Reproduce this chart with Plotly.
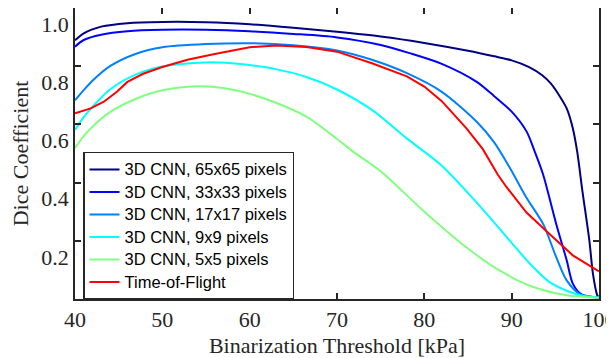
import plotly.graph_objects as go

# -- datos (umbral en kPa, coeficiente Dice)
x_65 = [40, 41, 43, 46, 50, 55, 60, 65, 70, 75, 80, 85, 88, 90, 92, 93.5, 94.5, 95.5, 96.3, 97, 97.5, 98.1, 98.9, 99.3, 99.8, 100]
y_65 = [0.889, 0.913, 0.936, 0.948, 0.952, 0.951, 0.944, 0.932, 0.918, 0.902, 0.880, 0.853, 0.834, 0.820, 0.797, 0.769, 0.740, 0.697,
        0.655, 0.587, 0.507, 0.371, 0.200, 0.088, 0.013, 0.005]

x_33 = [40, 41, 43, 46, 50, 55, 60, 65, 70, 75, 78.3, 82, 86, 88, 90, 91.7, 92.6, 93.6, 95.1, 96.3, 97, 98, 100]
y_33 = [0.867, 0.890, 0.908, 0.920, 0.925, 0.925, 0.920, 0.911, 0.899, 0.873, 0.845, 0.808, 0.746, 0.697, 0.644, 0.576, 0.510,
        0.428, 0.258, 0.133, 0.053, 0.016, 0.005]

x_17 = [40, 41, 42, 44, 47, 50, 55, 60, 65, 70, 74, 78, 82, 86, 88, 89.8, 91.7, 93.6, 95.1, 96.3, 97.8, 100]
y_17 = [0.683, 0.718, 0.750, 0.800, 0.843, 0.865, 0.876, 0.879, 0.872, 0.854, 0.822, 0.776, 0.712, 0.609, 0.538, 0.450, 0.348,
        0.258, 0.144, 0.064, 0.017, 0.005]

x_9 = [40, 41, 42, 44, 47, 50, 55, 58, 60, 63, 66.5, 70, 74, 78, 82, 86, 89.8, 92.1, 94.3, 96.6, 98, 100]
y_9 = [0.581, 0.625, 0.660, 0.720, 0.772, 0.799, 0.813, 0.810, 0.804, 0.790, 0.763, 0.720, 0.650, 0.552, 0.458, 0.331, 0.200,
       0.121, 0.059, 0.025, 0.012, 0.005]

x_5 = [40, 41, 42, 44, 47, 50, 54, 57, 60, 62.7, 66.5, 70, 72, 75, 80, 84.8, 88.6, 92.4, 96.3, 100]
y_5 = [0.519, 0.560, 0.592, 0.642, 0.688, 0.717, 0.731, 0.725, 0.705, 0.678, 0.627, 0.550, 0.503, 0.439, 0.300, 0.178, 0.098,
       0.042, 0.013, 0.004]

x_tof = [40, 41.8, 43.3, 44.8, 46, 47.8, 50, 53, 56, 60, 63, 66.5, 70, 74, 78, 80, 82, 84.8, 86.7, 88.4, 89.4, 91.7, 94.3, 97, 100]
y_tof = [0.638, 0.655, 0.678, 0.712, 0.746, 0.774, 0.797, 0.823, 0.842, 0.865, 0.871, 0.866, 0.850, 0.810, 0.765, 0.730, 0.680,
         0.587, 0.515, 0.428, 0.385, 0.297, 0.224, 0.150, 0.095]

nombres = ['3D CNN, 65x65 pixels', '3D CNN, 33x33 pixels', '3D CNN, 17x17 pixels',
           '3D CNN, 9x9 pixels', '3D CNN, 5x5 pixels', 'Time-of-Flight']
colores = ['#000080', '#0000ff', '#0080ff', '#00ffff', '#80ff80', '#ff0000']

y_ticks = [0.2, 0.4, 0.6, 0.8, 1.0]
x_ticks = [40, 50, 60, 70, 80, 90, 100]

series = [(x_65, y_65), (x_33, y_33), (x_17, y_17), (x_9, y_9), (x_5, y_5), (x_tof, y_tof)]

fig = go.Figure()
for i, (xs, ys) in enumerate(series):
    forma = 'linear' if nombres[i] == 'Time-of-Flight' else 'spline'
    # texto de la leyenda un poco mas grande que el alto de renglon
    etiqueta = '<span style="font-size:16.5px">' + nombres[i] + '</span>'
    fig.add_trace(go.Scatter(x=xs, y=ys, mode='lines', name=etiqueta,
                             line=dict(color=colores[i], width=2, shape=forma, smoothing=0.8)))

ejes = dict(showline=True, linecolor='#262626', linewidth=1.5, mirror='ticks', ticks='inside',
            ticklen=6, tickwidth=1.5, tickcolor='#262626', showgrid=False, zeroline=False,
            automargin=False, ticklabeloverflow='allow',
            tickfont=dict(family='Liberation Serif', size=22, color='#262626'))

# la pagina tiene 8 px de margen en el body, se descuentan aqui
fig.update_layout(template='none', width=606, height=350, margin=dict(l=67, r=14.5, t=0, b=59),
                  plot_bgcolor='white', paper_bgcolor='white',
                  legend=dict(x=0.0153, y=0.506, xanchor='left', yanchor='top',
                              bgcolor='white', bordercolor='#262626', borderwidth=1.5,
                              font=dict(family='Liberation Sans', size=15, color='black')),
                  showlegend=True)
fig.update_xaxes(range=[40, 100], tickvals=x_ticks, ticklabelstandoff=0,
                 title=dict(text='Binarization Threshold [kPa]', standoff=10,
                            font=dict(family='Liberation Serif', size=22, color='#262626')), **ejes)
# en la original las etiquetas del eje y quedan un poco por debajo de cada marca
fig.update_yaxes(range=[0, 1], tickvals=y_ticks, tickformat='.1f', ticklabelstandoff=0,
                 ticklabelposition='outside bottom',
                 title=dict(text='Dice Coefficient', standoff=34,
                            font=dict(family='Liberation Serif', size=22, color='#262626')), **ejes)

fig.write_html("out.html")
